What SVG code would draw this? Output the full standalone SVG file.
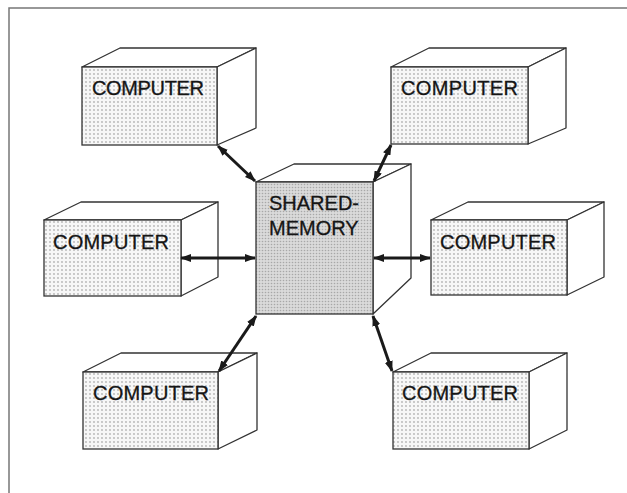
<svg xmlns="http://www.w3.org/2000/svg" width="627" height="493" viewBox="0 0 627 493">
<defs>
<pattern id="dots" width="4" height="4" patternUnits="userSpaceOnUse">
<rect width="4" height="4" fill="#f7f7f7"/>
<circle cx="2" cy="2" r="0.9" fill="#b4b4b4"/>
</pattern>
<pattern id="dense" width="3" height="3" patternUnits="userSpaceOnUse">
<rect width="3" height="3" fill="#dadada"/>
<circle cx="1.5" cy="1.5" r="0.8" fill="#a8a8a8"/>
</pattern>
<marker id="ah" viewBox="0 0 11 8" refX="10" refY="4" markerWidth="11" markerHeight="8" markerUnits="userSpaceOnUse" orient="auto-start-reverse">
<path d="M0,0 L11,4 L0,8 Z" fill="#1a1a1a"/>
</marker>
</defs>
<style>
.face{fill:url(#dots);stroke:#333;stroke-width:1.3}
.side{fill:#fff;stroke:#333;stroke-width:1.3;stroke-linejoin:round}
.mem{fill:url(#dense);stroke:#333;stroke-width:1.3}
.lbl{font-family:"Liberation Sans",Arial,sans-serif;font-size:20px;fill:#151515;stroke:#151515;stroke-width:0.3}
.con{stroke:#1a1a1a;stroke-width:3;fill:none;marker-start:url(#ah);marker-end:url(#ah)}
.frame{stroke:#777;stroke-width:1.5;fill:none}
</style>
<rect width="627" height="493" fill="#fff"/>
<path class="frame" d="M9,493 L9,8 L627,8"/>

<g id="computer-tl">
<polygon class="side" points="82,67 120,48 256,48 217,67"/>
<polygon class="side" points="217,67 256,48 256,128 217,145"/>
<rect class="face" x="82" y="67" width="135" height="78"/>
<text class="lbl" x="92" y="95" textLength="112">COMPUTER</text>
</g>

<g id="computer-tr">
<polygon class="side" points="391,67 429,48 566,48 528,67"/>
<polygon class="side" points="528,67 566,48 566,128 528,144"/>
<rect class="face" x="391" y="67" width="137" height="77"/>
<text class="lbl" x="401" y="95" textLength="117">COMPUTER</text>
</g>

<g id="computer-ml">
<polygon class="side" points="44,220 81,202 218,202 181,220"/>
<polygon class="side" points="181,220 218,202 218,277 181,296"/>
<rect class="face" x="44" y="220" width="137" height="76"/>
<text class="lbl" x="53" y="249" textLength="116">COMPUTER</text>
</g>

<g id="computer-mr">
<polygon class="side" points="431,220 468,202 604,202 567,220"/>
<polygon class="side" points="567,220 604,202 604,277 567,295"/>
<rect class="face" x="431" y="220" width="136" height="75"/>
<text class="lbl" x="440" y="249" textLength="116">COMPUTER</text>
</g>

<g id="computer-bl">
<polygon class="side" points="83,372 121,353 257,353 218,372"/>
<polygon class="side" points="218,372 257,353 257,430 218,449"/>
<rect class="face" x="83" y="372" width="135" height="77"/>
<text class="lbl" x="93" y="400" textLength="116">COMPUTER</text>
</g>

<g id="computer-br">
<polygon class="side" points="393,372 431,353 567,353 529,372"/>
<polygon class="side" points="529,372 567,353 567,430 529,449"/>
<rect class="face" x="393" y="372" width="136" height="77"/>
<text class="lbl" x="402" y="400" textLength="116">COMPUTER</text>
</g>

<g id="shared-memory">
<polygon class="side" points="256,182 294,164 411,164 373,182"/>
<polygon class="side" points="373,182 411,164 411,278 373,314"/>
<rect class="mem" x="256" y="182" width="117" height="132"/>
<text class="lbl" x="269" y="210">SHARED-</text>
<text class="lbl" x="269" y="235">MEMORY</text>
</g>

<g id="connectors">
<line class="con" x1="218" y1="146" x2="255" y2="181"/>
<line class="con" x1="391" y1="145" x2="374" y2="181"/>
<line class="con" x1="181" y1="258" x2="255" y2="258"/>
<line class="con" x1="374" y1="258" x2="430" y2="258"/>
<line class="con" x1="256" y1="316" x2="219" y2="371"/>
<line class="con" x1="373" y1="316" x2="392" y2="371"/>
</g>
</svg>
